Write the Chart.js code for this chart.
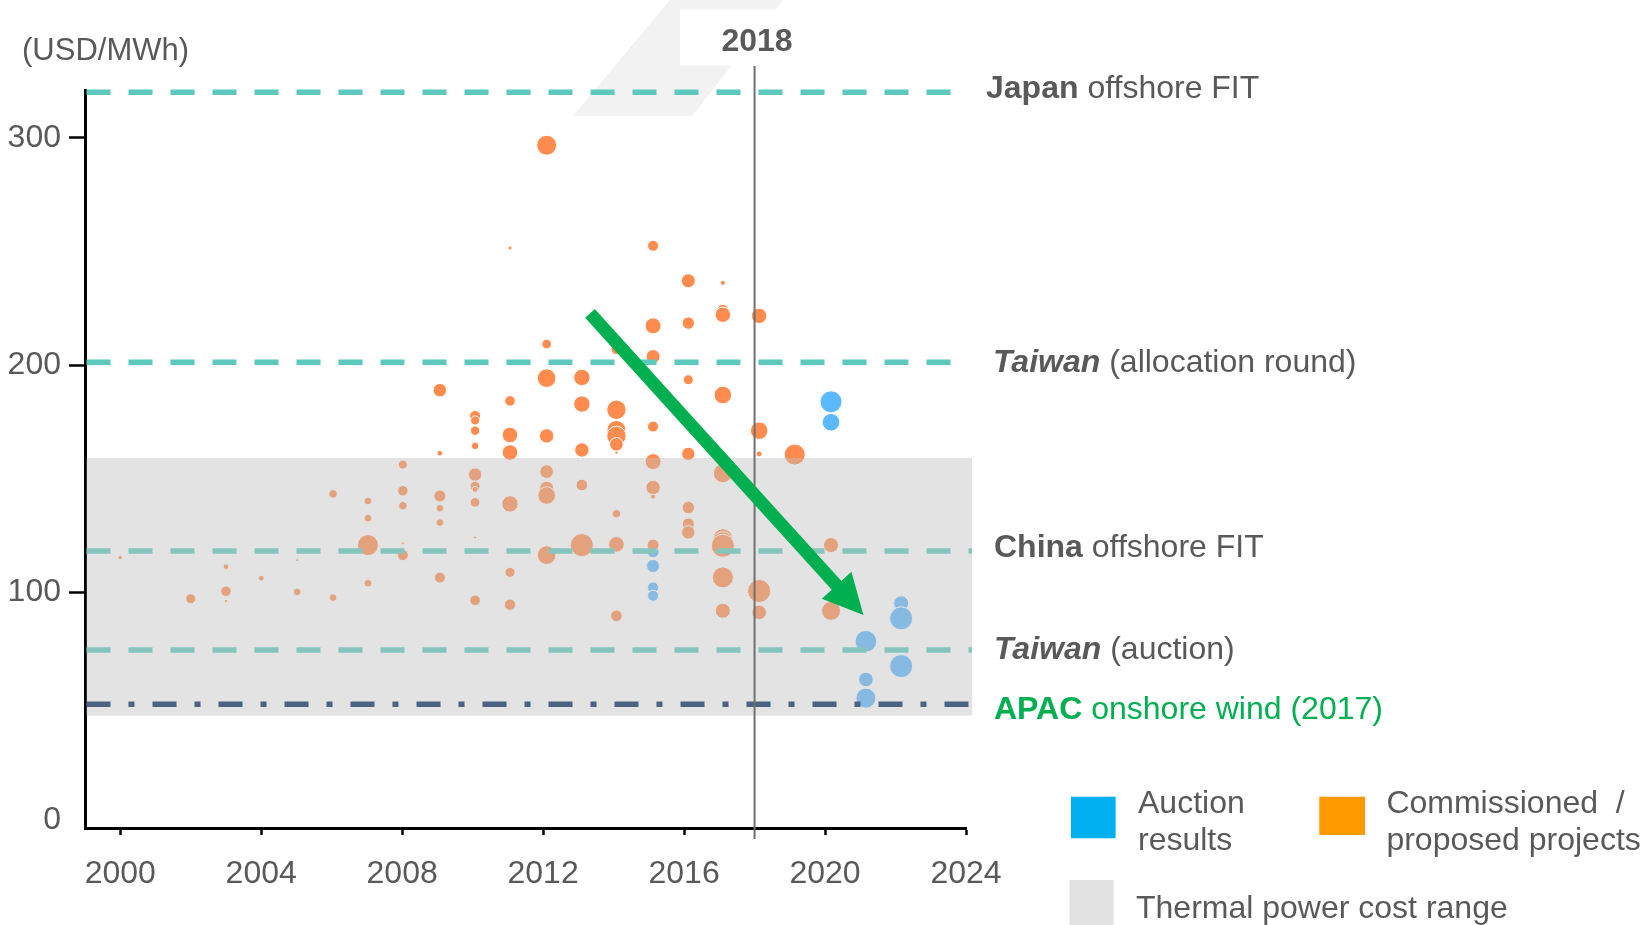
<!DOCTYPE html>
<html>
<head>
<meta charset="utf-8">
<script src="https://cdn.jsdelivr.net/npm/chart.js@4.4.1/dist/chart.umd.min.js"></script>
<style>
html,body{margin:0;padding:0;background:#fff;overflow:hidden;}
canvas{display:block;}
</style>
</head>
<body>
<canvas id="c" width="1652" height="925"></canvas>
<script>
// ================= DATA =================
const yearTicks  = [2000, 2004, 2008, 2012, 2016, 2020, 2024];
const valueTicks = [0, 100, 200, 300];
const unitLabel  = '(USD/MWh)';

// Commissioned / proposed projects (orange bubbles)
const projectYears = [
  2000.0,
  2002.0,
  2003.0, 2003.0, 2003.0,
  2004.0,
  2005.02, 2005.02,
  2006.04, 2006.04,
  2007.03, 2007.03, 2007.03, 2007.03,
  2008.02, 2008.02, 2008.02, 2008.02, 2008.02,
  2009.07, 2009.07, 2009.07, 2009.07, 2009.07, 2009.07,
  2010.07, 2010.07, 2010.07, 2010.07, 2010.07, 2010.07, 2010.07, 2010.07, 2010.07, 2010.07,
  2011.06, 2011.06, 2011.06, 2011.06, 2011.06, 2011.06, 2011.06,
  2012.1, 2012.1, 2012.1, 2012.1, 2012.1, 2012.1, 2012.1, 2012.1,
  2013.1, 2013.1, 2013.1, 2013.1, 2013.1,
  2014.08, 2014.08, 2014.08, 2014.08, 2014.08, 2014.08, 2014.08, 2014.08, 2014.08,
  2015.12, 2015.12, 2015.12, 2015.12, 2015.12, 2015.12, 2015.12, 2015.12,
  2016.12, 2016.12, 2016.12, 2016.12, 2016.12, 2016.12, 2016.12,
  2017.1, 2017.1, 2017.1, 2017.1, 2017.1, 2017.1, 2017.1, 2017.1, 2017.1, 2017.1,
  2018.13, 2018.13, 2018.13, 2018.13, 2018.13,
  2019.14,
  2020.17, 2020.17
];
const projectPrices = [
  115.4,
  97.3,
  111.4, 100.6, 96.3,
  106.3,
  100.3, 114.3,
  143.4, 97.8,
  140.3, 132.7, 120.9, 104.1,
  156.3, 144.8, 138.2, 121.7, 116.5,
  189.0, 161.3, 142.5, 137.1, 130.8, 106.6,
  177.7, 175.7, 171.2, 164.5, 151.9, 146.8, 145.4, 139.7, 124.3, 96.6,
  251.5, 184.3, 169.3, 161.6, 139.0, 108.9, 94.7,
  296.7, 209.3, 194.3, 168.9, 153.2, 145.9, 142.7, 116.5,
  194.6, 182.9, 162.7, 147.3, 120.9,
  207.1, 180.4, 171.5, 168.9, 165.2, 161.6, 134.7, 121.2, 89.8,
  252.5, 217.3, 203.8, 173.0, 157.6, 146.2, 142.2, 120.9,
  237.1, 218.5, 193.6, 161.0, 137.4, 130.2, 126.5,
  236.2, 224.4, 222.2, 186.9, 152.5, 123.7, 122.2, 120.6, 106.7, 92.0,
  221.7, 171.2, 161.0, 100.7, 91.3,
  160.7,
  120.9, 92.0
];
const projectSizes = [
  2.2,
  5.0,
  2.8, 5.2, 1.6,
  2.8,
  3.8, 1.5,
  4.2, 3.8,
  3.8, 3.8, 10.5, 3.8,
  4.5, 5.2, 4.2, 1.5, 5.5,
  6.8, 2.8, 6.0, 3.8, 3.8, 5.5,
  5.5, 4.5, 4.7, 3.8, 6.7, 5.0, 3.0, 4.8, 1.5, 5.3,
  2.0, 5.3, 7.8, 7.8, 8.2, 5.0, 5.7,
  10.0, 4.8, 9.3, 7.2, 6.8, 7.0, 8.8, 9.3,
  8.2, 8.2, 7.2, 5.8, 11.5,
  5.5, 9.7, 9.5, 9.7, 6.8, 1.6, 4.2, 7.8, 5.8,
  5.5, 8.0, 7.0, 5.5, 8.0, 7.2, 2.5, 6.0,
  7.0, 6.2, 5.0, 6.7, 6.2, 6.0, 6.7,
  2.5, 5.5, 7.7, 8.8, 9.5, 10.0, 10.5, 11.5, 10.5, 7.5,
  7.7, 8.8, 3.0, 11.5, 7.3,
  10.5,
  7.5, 9.5
];

// Auction results (blue bubbles)
const auctionYears  = [2015.12, 2015.12, 2015.12, 2015.12, 2020.17, 2020.17, 2021.16, 2021.16, 2021.16, 2022.16, 2022.16, 2022.16];
const auctionPrices = [118.0, 111.7, 102.3, 98.6, 183.9, 174.9, 78.6, 61.8, 53.6, 95.3, 88.7, 67.7];
const auctionSizes  = [6.0, 6.5, 5.5, 5.5, 11.0, 8.8, 10.8, 7.3, 10.0, 7.5, 11.5, 11.5];

// Reference price levels
const refNames    = ['Japan', 'Taiwan', 'China', 'Taiwan', 'APAC'];
const refSuffixes = [' offshore FIT', ' (allocation round)', ' offshore FIT', ' (auction)', ' onshore wind (2017)'];
const refPrices   = [320, 201.3, 118.3, 74.8, 50.9];

const thermalRange = [45.9, 159.2];   // low, high
const markerYear   = 2018;
const markerLabel  = '2018';
const trendFrom    = [2013.33, 222.8]; // year, price
const trendTo      = [2021.09, 90.2];

const legendFirstLines  = ['Auction', 'Commissioned  /', 'Thermal power cost range'];
const legendSecondLines = ['results', 'proposed projects', ''];

// ================= STYLE / LAYOUT =================
const FONT = '"Liberation Sans", Arial, Helvetica, sans-serif';
const COL = {
  orange: 'rgb(255,139,78)',
  blue: 'rgb(92,184,255)',
  teal: 'rgb(92,200,190)',
  slate: 'rgb(74,99,128)',
  band: 'rgba(189,189,189,0.43)',
  text: '#595959',
  green: '#00B050',
  marker: '#707070',
  legBlue: '#00B0F0',
  legOrange: '#FF9900',
  legGray: '#E2E2E2'
};
const LABEL_FONT_SIZE = 32;

function toPoints(xs, ys, rs) {
  return xs.map((x, i) => ({ x: x, y: ys[i], r: rs[i] }));
}

const refStyle = [
  { end: 2023.73, dash: [24, 18], color: COL.teal, italic: false, labelX: 986, dy: 5.6, textColor: COL.text },
  { end: 2023.73, dash: [24, 18], color: COL.teal, italic: true,  labelX: 993, dy: 9.4, textColor: COL.text },
  { end: 2024.17, dash: [24, 18], color: COL.teal, italic: false, labelX: 994, dy: 5.7, textColor: COL.text },
  { end: 2024.17, dash: [24, 18], color: COL.teal, italic: true,  labelX: 994, dy: 9.3, textColor: COL.text },
  { end: 2024.17, dash: [24, 18, 6, 18], color: COL.slate, italic: false, labelX: 994, dy: 15, textColor: COL.green }
];
const BAND_END = 2024.17;

function drawLine(ctx, x0, x1, y, dash, color, w) {
  ctx.save();
  ctx.strokeStyle = color;
  ctx.lineWidth = w;
  ctx.setLineDash(dash);
  ctx.lineDashOffset = 0;
  ctx.beginPath();
  ctx.moveTo(x0, y);
  ctx.lineTo(x1, y);
  ctx.stroke();
  ctx.restore();
}

const decor = {
  id: 'decor',
  beforeDraw(chart) {
    const ctx = chart.ctx;
    const xs = chart.scales.x;
    const mx = xs.getPixelForValue(markerYear);
    ctx.save();
    ctx.fillStyle = '#ffffff';
    ctx.fillRect(0, 0, chart.width, chart.height);
    // faint decorative parallelogram behind the 2018 label
    ctx.fillStyle = '#F2F2F2';
    ctx.beginPath();
    ctx.moveTo(mx - 84.6, 0);
    ctx.lineTo(mx + 28.4, 0);
    ctx.lineTo(mx - 62.6, 116);
    ctx.lineTo(mx - 181.6, 116);
    ctx.closePath();
    ctx.fill();
    ctx.fillStyle = '#ffffff';
    ctx.fillRect(mx - 74.6, 9.3, 97, 56.4);
    ctx.restore();
  },
  afterDatasetsDraw(chart) {
    const ctx = chart.ctx;
    const xs = chart.scales.x, ys = chart.scales.y;
    const a = chart.chartArea;
    const left = a.left + 1.5;
    // teal reference lines (under the band)
    for (let i = 0; i < 4; i++) {
      const s = refStyle[i];
      drawLine(ctx, left, xs.getPixelForValue(s.end), ys.getPixelForValue(refPrices[i]), s.dash, s.color, 5.5);
    }
    // thermal band
    ctx.save();
    ctx.fillStyle = COL.band;
    const yTop = ys.getPixelForValue(thermalRange[1]);
    const yBot = ys.getPixelForValue(thermalRange[0]);
    ctx.fillRect(left, yTop, xs.getPixelForValue(BAND_END) - left, yBot - yTop);
    ctx.restore();
    // APAC dash-dot line
    const s4 = refStyle[4];
    drawLine(ctx, left, xs.getPixelForValue(s4.end), ys.getPixelForValue(refPrices[4]), s4.dash, s4.color, 5.5);
    // 2018 marker line
    const mx = xs.getPixelForValue(markerYear);
    ctx.save();
    ctx.strokeStyle = COL.marker;
    ctx.lineWidth = 2;
    ctx.beginPath();
    ctx.moveTo(mx, ys.getPixelForValue(331.5));
    ctx.lineTo(mx, ys.getPixelForValue(-8.3));
    ctx.stroke();
    ctx.restore();
    // green trend arrow
    const p0x = xs.getPixelForValue(trendFrom[0]), p0y = ys.getPixelForValue(trendFrom[1]);
    const p1x = xs.getPixelForValue(trendTo[0]), p1y = ys.getPixelForValue(trendTo[1]);
    const dx = p1x - p0x, dy = p1y - p0y, L = Math.hypot(dx, dy);
    const ux = dx / L, uy = dy / L, nx = -uy, ny = ux;
    const headLen = 40, headHalf = 20, shaftHalf = 6.5;
    const bx = p1x - ux * headLen, by = p1y - uy * headLen;
    ctx.save();
    ctx.fillStyle = COL.green;
    ctx.beginPath();
    ctx.moveTo(p0x + nx * shaftHalf, p0y + ny * shaftHalf);
    ctx.lineTo(bx + nx * shaftHalf, by + ny * shaftHalf);
    ctx.lineTo(bx + nx * headHalf, by + ny * headHalf);
    ctx.lineTo(p1x, p1y);
    ctx.lineTo(bx - nx * headHalf, by - ny * headHalf);
    ctx.lineTo(bx - nx * shaftHalf, by - ny * shaftHalf);
    ctx.lineTo(p0x - nx * shaftHalf, p0y - ny * shaftHalf);
    ctx.closePath();
    ctx.fill();
    ctx.restore();
  },
  afterDraw(chart) {
    const ctx = chart.ctx;
    const xs = chart.scales.x, ys = chart.scales.y;
    const mx = xs.getPixelForValue(markerYear);
    ctx.save();
    ctx.textBaseline = 'alphabetic';
    // unit label
    ctx.fillStyle = COL.text;
    ctx.textAlign = 'left';
    ctx.font = '31px ' + FONT;
    ctx.fillText(unitLabel, 22, 60);
    // 2018 label
    ctx.textAlign = 'center';
    ctx.font = 'bold 32px ' + FONT;
    ctx.fillText(markerLabel, mx + 2.5, 50.7);
    // reference labels
    ctx.textAlign = 'left';
    for (let i = 0; i < refNames.length; i++) {
      const s = refStyle[i];
      const y = ys.getPixelForValue(refPrices[i]) + s.dy;
      ctx.fillStyle = s.textColor;
      ctx.font = (s.italic ? 'italic ' : '') + 'bold ' + LABEL_FONT_SIZE + 'px ' + FONT;
      ctx.fillText(refNames[i], s.labelX, y);
      const w = ctx.measureText(refNames[i]).width;
      ctx.font = LABEL_FONT_SIZE + 'px ' + FONT;
      ctx.fillText(refSuffixes[i], s.labelX + w, y);
    }
    // legend
    const boxes = [
      { x: 1071, y: 796.7, w: 44.6, h: 41.6, c: COL.legBlue, tx: 1138, ty: 813.3 },
      { x: 1319.3, y: 796.7, w: 45.7, h: 38.3, c: COL.legOrange, tx: 1386.4, ty: 813.3 },
      { x: 1069.5, y: 880, w: 44, h: 50, c: COL.legGray, tx: 1136, ty: 918.3 }
    ];
    boxes.forEach((b, i) => {
      ctx.fillStyle = b.c;
      ctx.fillRect(b.x, b.y, b.w, b.h);
      ctx.fillStyle = COL.text;
      ctx.font = LABEL_FONT_SIZE + 'px ' + FONT;
      ctx.fillText(legendFirstLines[i], b.tx, b.ty);
      if (legendSecondLines[i]) ctx.fillText(legendSecondLines[i], b.tx, b.ty + 36.7);
    });
    ctx.restore();
  }
};

const tickFont = { family: FONT, size: 32 };

new Chart(document.getElementById('c'), {
  type: 'bubble',
  data: {
    datasets: [
      {
        label: 'Commissioned / proposed projects',
        data: toPoints(projectYears, projectPrices, projectSizes),
        backgroundColor: COL.orange,
        borderColor: '#ffffff',
        borderWidth: 1,
        hoverRadius: 0
      },
      {
        label: 'Auction results',
        data: toPoints(auctionYears, auctionPrices, auctionSizes),
        backgroundColor: COL.blue,
        borderColor: '#ffffff',
        borderWidth: 1,
        hoverRadius: 0
      }
    ]
  },
  options: {
    responsive: false,
    animation: false,
    devicePixelRatio: 1,
    events: [],
    layout: { padding: { left: 0, top: 90, right: 686, bottom: 0 } },
    plugins: { legend: { display: false }, tooltip: { enabled: false } },
    scales: {
      x: {
        type: 'linear',
        position: 'bottom',
        min: 1999,
        max: 2024,
        afterBuildTicks: (s) => { s.ticks = yearTicks.map(v => ({ value: v })); },
        afterFit: (s) => { s.height = 97; },
        ticks: {
          autoSkip: false, maxRotation: 0, padding: 20,
          color: COL.text, font: tickFont,
          callback: (v) => String(v)
        },
        grid: { drawOnChartArea: false, drawTicks: true, tickLength: 7, tickWidth: 2.5, tickColor: '#000' },
        border: { display: true, color: '#000', width: 3 }
      },
      y: {
        type: 'linear',
        position: 'left',
        min: -3.5,
        max: 321,
        afterBuildTicks: (s) => { s.ticks = valueTicks.map(v => ({ value: v })); },
        afterFit: (s) => { s.width = 85; },
        ticks: {
          padding: 8, color: COL.text, font: tickFont,
          callback: (v) => String(v)
        },
        grid: {
          drawOnChartArea: false, drawTicks: true, tickLength: 16, tickWidth: 2.5,
          tickColor: (c) => (c.tick && c.tick.value === 0) ? 'rgba(0,0,0,0)' : '#000'
        },
        border: { display: true, color: '#000', width: 3 }
      }
    }
  },
  plugins: [decor]
});
</script>
</body>
</html>
